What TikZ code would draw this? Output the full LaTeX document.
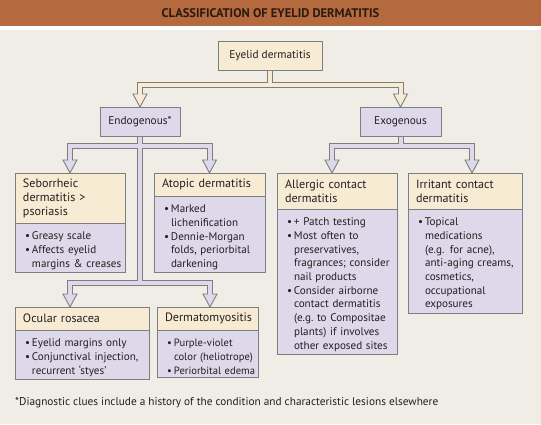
\documentclass[tikz,border=0pt]{standalone}
\usepackage{fontspec}
\setmainfont{PT Sans}
\usetikzlibrary{calc}
\definecolor{brownbar}{HTML}{B4693E}
\definecolor{bgcol}{HTML}{F0EDE7}
\definecolor{beige}{HTML}{F7EBD4}
\definecolor{lav}{HTML}{DDD8EA}
\definecolor{edgegray}{HTML}{7E7E7E}
\definecolor{inkcol}{HTML}{231F20}
\definecolor{titleink}{HTML}{2A1A10}
\newcommand\bitem{\par\noindent\hspace*{2pt}\makebox[7pt][l]{\textbullet}}
\newcommand\cl{\newline\hspace*{9pt}}
\tikzset{
  boxbase/.style={draw=edgegray, line width=0.9pt, outer sep=0pt, inner xsep=0pt, inner ysep=3pt, text=inkcol, align=left, anchor=north west, execute at begin node={\leftskip=8pt\relax}},
  hdrbox/.style={boxbase, fill=beige, font=\fontsize{12.1}{14}\selectfont},
  bodybox/.style={boxbase, fill=lav, font=\fontsize{11.1}{13.7}\selectfont},
  lblbox/.style={draw=edgegray, line width=0.9pt, outer sep=0pt, text=inkcol, minimum height=29pt, font=\fontsize{11.3}{14}\selectfont},
  pipeout/.style={draw=edgegray, line width=6pt},
  pipein/.style={line width=4pt},
  phead/.pic={\path[pic actions] (0,0) -- (-7,-13) -- (7,-13) -- cycle;}
}
\begin{document}
\begin{tikzpicture}[x=1pt,y=-1pt]
\useasboundingbox (0,0) rectangle (541,424);
\fill[bgcol] (0,0) rectangle (541,424);
\fill[white] (0,25) rectangle (541,30);
\fill[brownbar] (0,0) rectangle (541,26);
\node[text=titleink, font=\bfseries\fontsize{12.5}{14}\selectfont] (title) at (270.5,13) {CLASSIFICATION OF EYELID DERMATITIS};

% top level
\node[lblbox, fill=beige, minimum width=104pt] (top) at (270,55.5) {Eyelid dermatitis};
\node[lblbox, fill=lav, minimum width=80pt] (endo) at (140,121.5) {Endogenous*};
\node[lblbox, fill=lav, minimum width=81pt] (exo) at (400.5,121.5) {Exogenous};

% endogenous boxes
\node[hdrbox, text width=110pt, minimum height=50pt] (sebo) at (15,173) {Seborrheic\newline dermatitis >\newline psoriasis};
\node[bodybox, text width=110pt, minimum height=47pt] (sebob) at (sebo.south west) {\bitem Greasy scale\bitem Affects eyelid\cl margins \& creases};
\node[hdrbox, text width=111pt, minimum height=23pt] (atop) at (154,173) {Atopic dermatitis};
\node[bodybox, text width=111pt, minimum height=74pt] (atopb) at (atop.south west) {\bitem Marked\cl lichenification\bitem Dennie-Morgan\cl folds, periorbital\cl darkening};
\node[hdrbox, text width=134pt, minimum height=23pt] (ocu) at (15,307) {Ocular rosacea};
\node[bodybox, text width=134pt, minimum height=47pt] (ocub) at (ocu.south west) {\bitem Eyelid margins only\bitem Conjunctival injection,\cl recurrent `styes'};
\node[hdrbox, text width=101pt, minimum height=23pt] (derm) at (157,307) {Dermatomyositis};
\node[bodybox, text width=101pt, minimum height=47pt, font=\fontsize{10.6}{13.7}\selectfont] (dermb) at (derm.south west) {\bitem Purple-violet\cl color~(heliotrope)\bitem Periorbital~edema};

% exogenous boxes
\node[hdrbox, text width=120pt, minimum height=36pt] (allg) at (277,173) {Allergic contact\newline dermatitis};
\node[bodybox, text width=120pt, minimum height=143pt] (allgb) at (allg.south west) {\bitem + Patch testing\bitem Most often to\cl preservatives,\cl fragrances;~consider\cl nail products\bitem Consider airborne\cl contact dermatitis\cl (e.g.~to~Compositae\cl plants) if involves\cl other exposed sites};
\node[hdrbox, text width=114pt, minimum height=36pt] (irr) at (408,173) {Irritant contact\newline dermatitis};
\node[bodybox, text width=114pt, minimum height=103pt] (irrb) at (irr.south west) {\bitem Topical\cl medications\cl (e.g. for acne),\cl anti-aging~creams,\cl cosmetics,\cl occupational\cl exposures};

% footnote
\node[anchor=base west, inner sep=0pt, text=inkcol, font=\fontsize{11.3}{13}\selectfont] (fn) at (15,405) {*Diagnostic clues include a history of the condition and characteristic lesions elsewhere};

% junction coordinates
\coordinate (tb) at ($(top.south)+(0,14.5)$);
\coordinate (eb1) at ($(endo.south)+(0,9.5)$);
\coordinate (eb2) at ($(endo.south)+(0,147)$);
\coordinate (xb) at ($(exo.south)+(0,9.5)$);
\coordinate (ocuT) at ($(ocu.north west)+(55,0)$);
\coordinate (dermT) at ($(derm.north)+(2.5,0)$);
\coordinate (allgT) at ($(allg.north)+(-5,0)$);
\coordinate (irrT) at ($(irr.north)+(7,0)$);

% outlines
\draw[pipeout] (top.south) -- (tb);
\draw[pipeout] ($(endo.north)+(0,-13)$) |- (tb) -| ($(exo.north)+(0,-13)$);
\draw[pipeout] (endo.south) -- (eb2);
\draw[pipeout] ($(sebo.north)+(0,-13)$) |- (eb1) -| ($(atop.north)+(0,-13)$);
\draw[pipeout] ($(ocuT)+(0,-13)$) |- (eb2) -| ($(dermT)+(0,-13)$);
\draw[pipeout] (exo.south) -- (xb);
\draw[pipeout] ($(allgT)+(0,-13)$) |- (xb) -| ($(irrT)+(0,-13)$);

% heads
\pic[fill=beige, draw=edgegray, line width=0.9pt] at (endo.north) {phead};
\pic[fill=beige, draw=edgegray, line width=0.9pt] at (exo.north) {phead};
\pic[fill=lav, draw=edgegray, line width=0.9pt] at (sebo.north) {phead};
\pic[fill=lav, draw=edgegray, line width=0.9pt] at (atop.north) {phead};
\pic[fill=lav, draw=edgegray, line width=0.9pt] at (ocuT) {phead};
\pic[fill=lav, draw=edgegray, line width=0.9pt] at (dermT) {phead};
\pic[fill=lav, draw=edgegray, line width=0.9pt] at (allgT) {phead};
\pic[fill=lav, draw=edgegray, line width=0.9pt] at (irrT) {phead};

% inner fills
\draw[pipein, draw=beige, shorten <=0.6pt] (top.south) -- (tb);
\draw[pipein, draw=beige] ($(endo.north)+(0,-11)$) |- (tb) -| ($(exo.north)+(0,-11)$);
\draw[pipein, draw=lav, shorten <=0.6pt] (endo.south) -- (eb2);
\draw[pipein, draw=lav] ($(sebo.north)+(0,-11)$) |- (eb1) -| ($(atop.north)+(0,-11)$);
\draw[pipein, draw=lav] ($(ocuT)+(0,-11)$) |- (eb2) -| ($(dermT)+(0,-11)$);
\draw[pipein, draw=lav, shorten <=0.6pt] (exo.south) -- (xb);
\draw[pipein, draw=lav] ($(allgT)+(0,-11)$) |- (xb) -| ($(irrT)+(0,-11)$);
\end{tikzpicture}
\end{document}
